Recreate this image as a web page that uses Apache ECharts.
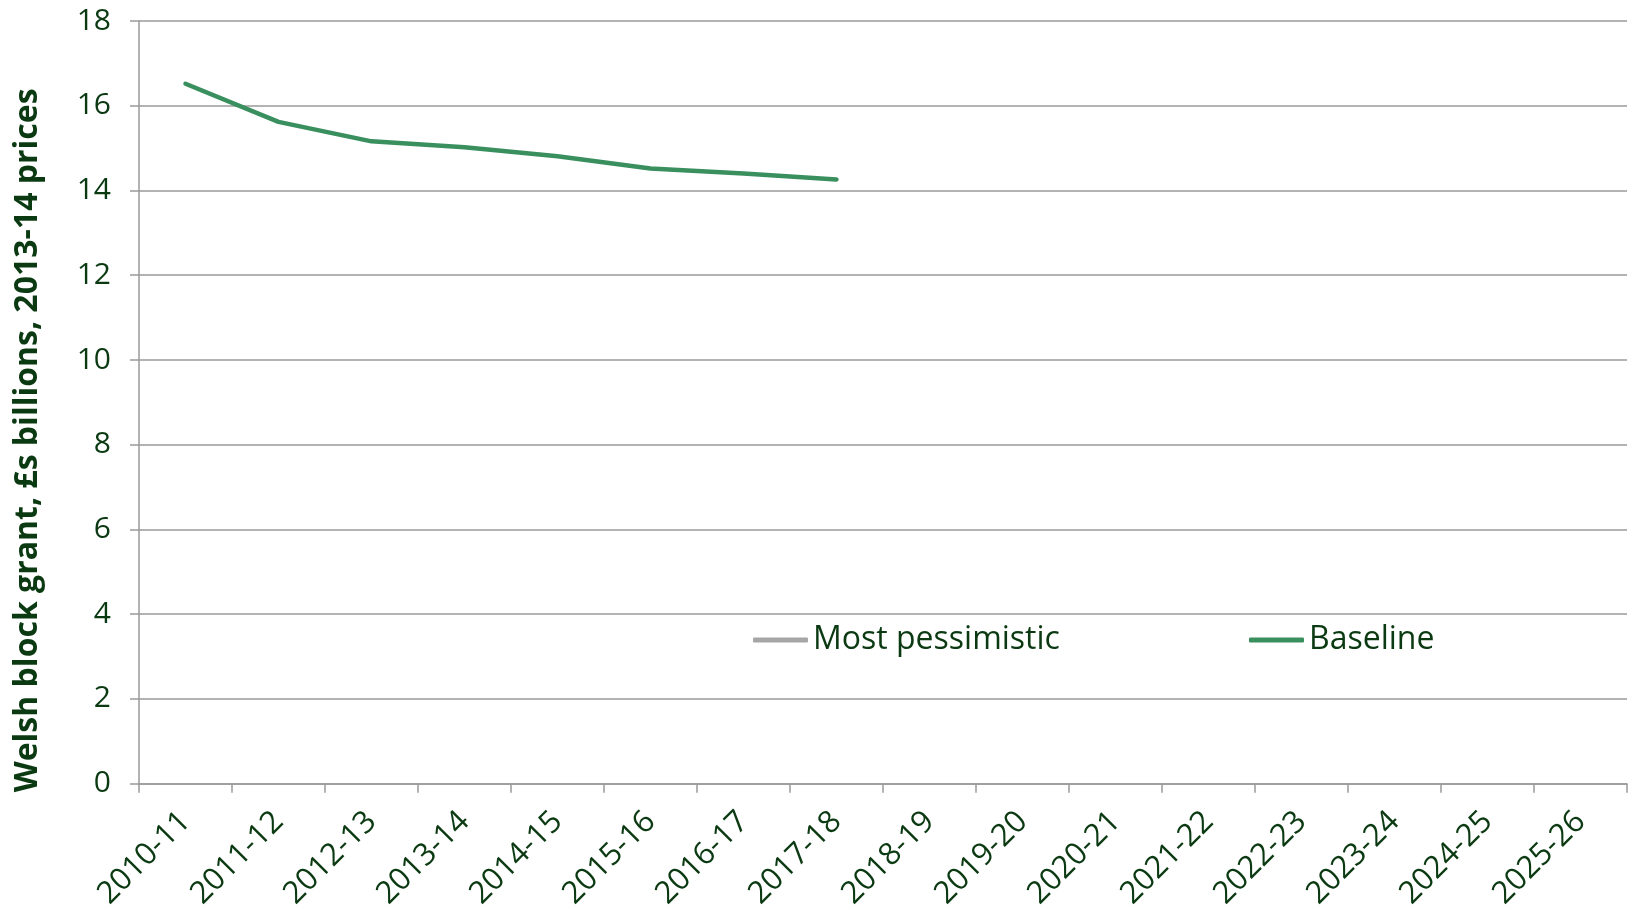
<!DOCTYPE html>
<html>
<head>
<meta charset="utf-8">
<style>
  html, body { margin: 0; padding: 0; background: #ffffff; }
  #chart { width: 1629px; height: 912px; }
</style>
<script src="https://cdn.jsdelivr.net/npm/echarts@6/dist/echarts.min.js"></script>
</head>
<body>
<div id="chart"></div>
<script>
// Financial years on the horizontal axis
const years = [
  '2010-11', '2011-12', '2012-13', '2013-14', '2014-15', '2015-16', '2016-17', '2017-18',
  '2018-19', '2019-20', '2020-21', '2021-22', '2022-23', '2023-24', '2024-25', '2025-26'
];

// Welsh block grant, £s billions, 2013-14 prices
const baseline = [16.52, 15.62, 15.16, 15.02, 14.81, 14.52, 14.40, 14.26];
const mostPessimistic = [];

// Value-axis ticks
const yTicks = [0, 2, 4, 6, 8, 10, 12, 14, 16, 18];

const textColor = '#0b3a12';
const gridColor = '#9a9a9a';
const font = 'Open Sans';

const chart = echarts.init(document.getElementById('chart'), null, { renderer: 'canvas' });

const legendText = { color: textColor, fontSize: 32, fontFamily: font };

chart.setOption({
  backgroundColor: '#ffffff',
  animation: false,
  grid: { left: 139, right: 2, top: 21, bottom: 128, containLabel: false },
  legend: [
    {
      data: ['Most pessimistic'],
      left: 753, top: 624, padding: 0,
      itemWidth: 55, itemHeight: 5, itemGap: 0,
      icon: 'roundRect',
      textStyle: legendText
    },
    {
      data: ['Baseline'],
      left: 1249, top: 624, padding: 0,
      itemWidth: 55, itemHeight: 5, itemGap: 0,
      icon: 'roundRect',
      textStyle: legendText
    }
  ],
  xAxis: {
    type: 'category',
    data: years,
    boundaryGap: true,
    axisLine: { lineStyle: { color: gridColor, width: 1.5 } },
    axisTick: { show: true, length: 9, inside: false, lineStyle: { color: gridColor, width: 1.5 } },
    axisLabel: {
      interval: 0,
      rotate: 45,
      margin: 33,
      color: textColor,
      fontSize: 31,
      fontFamily: font
    }
  },
  yAxis: {
    type: 'value',
    min: yTicks[0],
    max: yTicks[yTicks.length - 1],
    interval: 2,
    name: 'Welsh block grant, £s billions, 2013-14 prices',
    nameLocation: 'middle',
    nameGap: 95,
    nameTextStyle: {
      color: textColor, fontSize: 32, fontWeight: 'bold', fontFamily: font,
      padding: [0, 76, 0, 0]
    },
    axisLine: { show: true, lineStyle: { color: gridColor, width: 1.5 } },
    axisTick: { show: true, length: 9, lineStyle: { color: gridColor, width: 1.5 } },
    splitLine: { show: true, lineStyle: { color: gridColor, width: 1.5 } },
    axisLabel: { margin: 28, color: textColor, fontSize: 30, fontFamily: font }
  },
  series: [
    {
      name: 'Most pessimistic',
      type: 'line',
      data: mostPessimistic,
      symbol: 'none',
      itemStyle: { color: '#a6a6a6' },
      lineStyle: { color: '#a6a6a6', width: 4.5 }
    },
    {
      name: 'Baseline',
      type: 'line',
      data: baseline,
      symbol: 'none',
      itemStyle: { color: '#3a8f5e' },
      lineStyle: { color: '#3a8f5e', width: 4.5, cap: 'round', join: 'round' }
    }
  ]
});
</script>
</body>
</html>
